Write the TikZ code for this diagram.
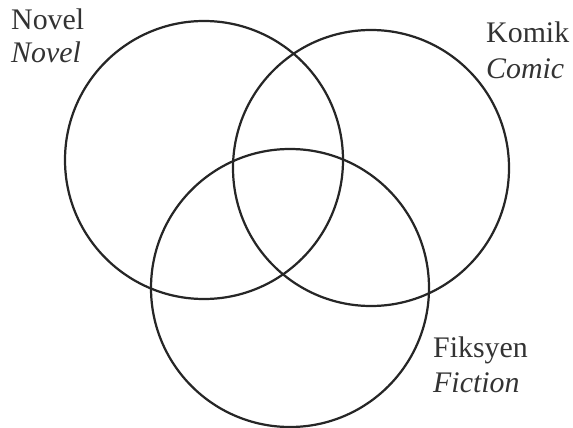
\documentclass[tikz,border=0pt]{standalone}
\usepackage{fontspec}
\setmainfont{Liberation Serif}
\usepackage{tikz}

\begin{document}
\begin{tikzpicture}[
      x=0.03cm, y=-0.03cm,
      set/.style={draw=black!85, line width=1.9pt},
      lbl/.style={anchor=base west, inner sep=0pt, font=\fontsize{25.5}{30}\selectfont, text=black!80},
    ]
    \useasboundingbox (0,0) rectangle (573,427);
    \coordinate (cnovel) at (204,160);
    \coordinate (ckomik) at (371,168);
    \coordinate (cfiksyen) at (290,288);
    \draw[set] (cnovel) circle[radius=139];
    \draw[set] (ckomik) circle[radius=138];
    \draw[set] (cfiksyen) circle[radius=139];
    \node[lbl] (novel) at (11,30) {Novel};
    \node[lbl] (novelEn) at (11,63) {\textit{Novel}};
    \node[lbl] (komik) at (486,43) {Komik};
    \node[lbl] (komikEn) at (486,79) {\textit{Comic}};
    \node[lbl] (fiksyen) at (433,357) {Fiksyen};
    \node[lbl] (fiksyenEn) at (433,392) {\textit{Fiction}};
  \end{tikzpicture}
\end{document}
